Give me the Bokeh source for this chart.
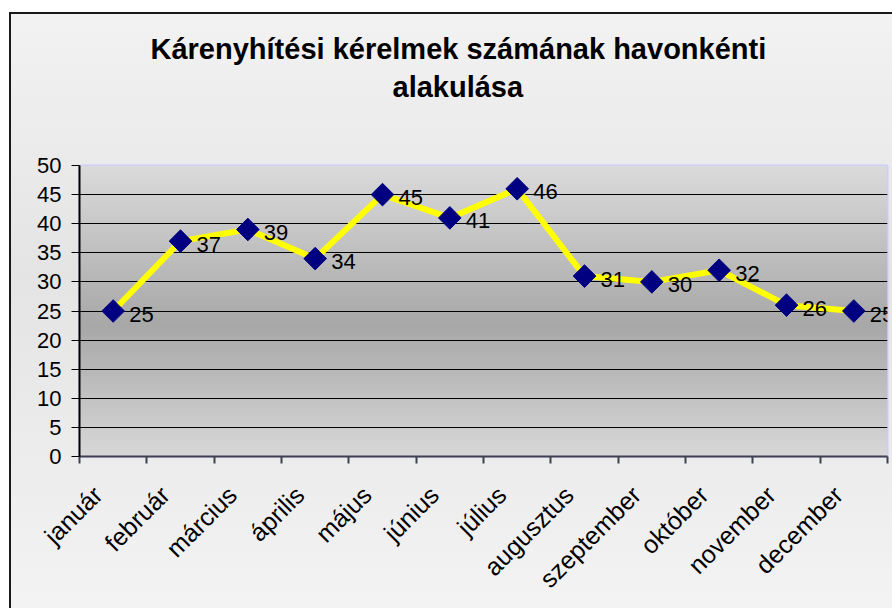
import math
import numpy as np
from bokeh.plotting import figure
from bokeh.models import FixedTicker, Range1d, Title
from bokeh.core.properties import value
from bokeh.embed import file_html
from bokeh.resources import INLINE

# ---- data ----
months = ["január", "február", "március", "április", "május", "június",
          "július", "augusztus", "szeptember", "október", "november", "december"]
counts = [25, 37, 39, 34, 45, 41, 46, 31, 30, 32, 26, 25]
y_ticks = [0, 5, 10, 15, 20, 25, 30, 35, 40, 45, 50]
title_line1 = "Kárenyhítési kérelmek számának havonkénti"
title_line2 = "alakulása"

FONT = "Liberation Sans"
n_cat = len(months)
xs = [i + 0.5 for i in range(n_cat)]
label_pos = [i + 0.27 for i in range(n_cat)]   # label anchors nudged left of centre
boundaries = list(range(n_cat + 1))

p = figure(width=892, height=608, output_backend="svg", toolbar_location=None,
           x_range=Range1d(0, n_cat), y_range=Range1d(y_ticks[0], y_ticks[-1]),
           min_border_left=79, min_border_right=5, min_border_top=165,
           min_border_bottom=152, border_fill_color=None,
           background_fill_color="#c4c4c4")
p.styles = {
    "background": "linear-gradient(to bottom, #f3f3f3 0%, #e4e4e4 45%, #f3f3f3 100%)",
    "box-shadow": "inset 9px 12px 0 0 #ffffff, inset 11px 14px 0 0 #1a1a1a",
}

# title: two centred lines (stacked outward from the plot: spacer, line 2, line 1)
def style_title(t, off, standoff):
    t.align = "left"
    t.offset = off
    t.standoff = standoff
    t.text_font = FONT
    t.text_font_size = "29px"
    t.text_font_style = "bold"
    t.text_color = "black"

p.title.text = title_line1
style_title(p.title, 71, 3)
spacer = Title(text=" ")
style_title(spacer, 0, 26)
p.add_layout(spacer, "above")
t2 = Title(text=title_line2)
style_title(t2, 313, 5)
p.add_layout(t2, "above")

# plot-area vertical gradient (decoration)
n = 200
t = np.linspace(0, 1, n)
v = np.interp(t, [0.0, 0.45, 1.0], [216, 168, 219]).astype(np.uint8)
img = np.empty((n, 1), dtype=np.uint32)
view = img.view(dtype=np.uint8).reshape((n, 1, 4))
view[:, 0, 0] = v
view[:, 0, 1] = v
view[:, 0, 2] = v
view[:, 0, 3] = 255
p.image_rgba(image=[img], x=0, y=y_ticks[0], dw=n_cat, dh=y_ticks[-1] - y_ticks[0], level="image")

# grid
p.xgrid.visible = False
p.ygrid.ticker = FixedTicker(ticks=y_ticks)
p.ygrid.grid_line_color = "black"
p.ygrid.grid_line_width = 1

p.outline_line_color = "#ccccff"
p.outline_line_width = 2

# y axis
p.yaxis.ticker = FixedTicker(ticks=y_ticks)
p.yaxis.axis_line_color = "black"
p.yaxis.axis_line_width = 2
p.yaxis.major_tick_out = 8
p.yaxis.major_tick_in = 0
p.yaxis.major_tick_line_color = "black"
p.yaxis.minor_tick_line_color = None
p.yaxis.major_label_text_font = FONT
p.yaxis.major_label_text_font_size = "22px"
p.yaxis.major_label_text_color = "black"
p.yaxis.major_label_standoff = 10

# x axis
p.xaxis.ticker = FixedTicker(ticks=label_pos, minor_ticks=boundaries)
p.xaxis.major_label_overrides = {x: m for x, m in zip(label_pos, months)}
p.xaxis.major_label_orientation = math.pi / 4
p.xaxis.major_tick_line_color = None
p.xaxis.major_tick_out = 0
p.xaxis.major_tick_in = 0
p.xaxis.minor_tick_line_color = "#404050"
p.xaxis.minor_tick_line_width = 2
p.xaxis.minor_tick_out = 7
p.xaxis.minor_tick_in = 0
p.xaxis.axis_line_color = "#404050"
p.xaxis.axis_line_width = 2
p.xaxis.major_label_text_font = FONT
p.xaxis.major_label_text_font_size = "25px"
p.xaxis.major_label_text_color = "black"
p.xaxis.major_label_standoff = 27

# series
p.line(xs, counts, line_color="#ffff00", line_width=6)
p.scatter(xs, counts, marker="square", size=16, angle=math.pi / 4,
          fill_color="#000080", line_color="#000080")
p.text(xs, counts, text=[str(c) for c in counts], x_offset=16, y_offset=3,
       text_align="left", text_baseline="middle", text_font=value(FONT),
       text_font_size="22px", text_color="black")

open("out.html", "w").write(file_html(p, INLINE))
